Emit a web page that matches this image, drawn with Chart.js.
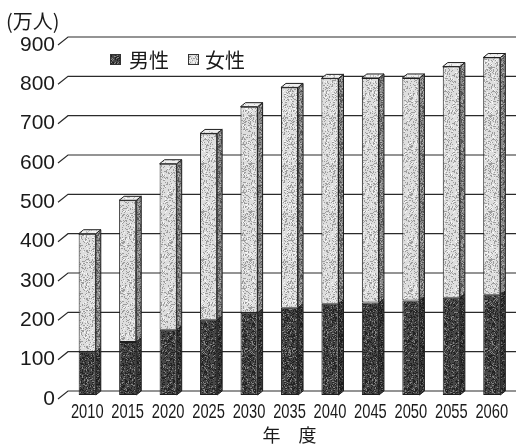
<!DOCTYPE html>
<html>
<head>
<meta charset="utf-8">
<script src="https://cdn.jsdelivr.net/npm/chart.js@4.4.1/dist/chart.umd.min.js"></script>
<style>
  html, body { margin: 0; padding: 0; background: #fff; }
  #wrap { width: 516px; height: 446px; }
</style>
</head>
<body>
<div id="wrap"><canvas id="myChart"></canvas></div>
<script>
// data (万人)
var years = ["2010", "2015", "2020", "2025", "2030", "2035", "2040", "2045", "2050", "2055", "2060"];
var male = [110, 135, 166, 191, 209, 222, 232, 235, 240, 247, 255];
var female = [300, 360, 422, 474, 524, 560, 573, 571, 566, 588, 603];
var yTicks = [0, 100, 200, 300, 400, 500, 600, 700, 800, 900];

var DX = 5, DY = -4;

// grainy fill to look like the scanned print
function grain(base, dark, light, density) {
    var c = document.createElement("canvas");
    c.width = 48; c.height = 48;
    var g = c.getContext("2d");
    g.fillStyle = base;
    g.fillRect(0, 0, 48, 48);
    for (var x = 0; x < 48; x++) {
        for (var y = 0; y < 48; y++) {
            var h = ((x * 374761393) ^ (y * 668265263) ^ (x * y * 2654435761)) >>> 0;
            h = ((h ^ (h >>> 13)) * 1274126177) >>> 0;
            var v = h % 100;
            if (v < density) { g.fillStyle = dark; g.fillRect(x, y, 1, 1); }
            else if (v > 100 - density / 2) { g.fillStyle = light; g.fillRect(x, y, 1, 1); }
        }
    }
    return g.createPattern(c, "repeat");
}

var maleFill = grain("#474747", "#222222", "#858585", 32);
var maleSide = grain("#383838", "#1c1c1c", "#6a6a6a", 30);
var femaleFill = grain("#dedede", "#9c9c9c", "#f7f7f7", 22);
var femaleSide = grain("#8a8a8a", "#555555", "#b5b5b5", 30);
var femaleTop = grain("#efefef", "#bdbdbd", "#ffffff", 15);

var sides = [maleSide, femaleSide];

var backGrid = {
    id: "backGrid",
    beforeDatasetsDraw: function(chart) {
        var ctx = chart.ctx, y = chart.scales.y, area = chart.chartArea;
        ctx.save();
        ctx.strokeStyle = "#2b2b2b";
        ctx.lineWidth = 1.2;
        yTicks.forEach(function(v) {
            var py = y.getPixelForValue(v);
            ctx.beginPath();
            ctx.moveTo(area.left - 9, py + 4);
            ctx.lineTo(area.left + 1, py - 4);
            ctx.lineTo(chart.width, py - 4);
            ctx.stroke();
        });
        ctx.restore();
    }
};

var bars3d = {
    id: "bars3d",
    afterDatasetsDraw: function(chart) {
        var ctx = chart.ctx;
        ctx.save();
        ctx.strokeStyle = "#1e1e1e";
        ctx.lineWidth = 1;
        chart.data.datasets.forEach(function(ds, di) {
            var meta = chart.getDatasetMeta(di);
            meta.data.forEach(function(bar) {
                var p = bar.getProps(["x", "y", "base", "width"], true);
                var r = p.x + p.width / 2, l = p.x - p.width / 2;
                var top = Math.min(p.y, p.base), bot = Math.max(p.y, p.base);
                ctx.beginPath();
                ctx.moveTo(r, top);
                ctx.lineTo(r + DX, top + DY);
                ctx.lineTo(r + DX, bot + DY);
                ctx.lineTo(r, bot);
                ctx.closePath();
                ctx.fillStyle = sides[di];
                ctx.fill();
                ctx.stroke();
                if (di === chart.data.datasets.length - 1) {
                    ctx.beginPath();
                    ctx.moveTo(l, top);
                    ctx.lineTo(l + DX, top + DY);
                    ctx.lineTo(r + DX, top + DY);
                    ctx.lineTo(r, top);
                    ctx.closePath();
                    ctx.fillStyle = femaleTop;
                    ctx.fill();
                    ctx.stroke();
                }
            });
        });
        ctx.restore();
    }
};

// year labels in a condensed face, as printed
var yearLabels = {
    id: "yearLabels",
    afterDraw: function(chart) {
        var ctx = chart.ctx, x = chart.scales.x;
        ctx.save();
        ctx.font = "21px 'Liberation Sans', sans-serif";
        ctx.fillStyle = "#1a1a1a";
        ctx.textAlign = "center";
        ctx.textBaseline = "middle";
        chart.data.labels.forEach(function(lab, i) {
            var px = x.getPixelForTick(i);
            ctx.save();
            ctx.translate(px, chart.chartArea.bottom + 17);
            ctx.scale(0.7, 1);
            ctx.fillText(lab, 0, 0);
            ctx.restore();
        });
        ctx.restore();
    }
};

var innerLegend = {
    id: "innerLegend",
    afterDraw: function(chart) {
        var ctx = chart.ctx;
        var items = [{ x: 110, textX: 129 }, { x: 188, textX: 205 }];
        ctx.save();
        ctx.font = "20px 'Noto Sans CJK JP'";
        ctx.textBaseline = "middle";
        chart.data.datasets.forEach(function(ds, i) {
            ctx.fillStyle = ds.backgroundColor;
            ctx.fillRect(items[i].x, 54, 11, 11);
            ctx.strokeStyle = "#333";
            ctx.strokeRect(items[i].x + 0.5, 54.5, 10, 10);
            ctx.fillStyle = "#1a1a1a";
            ctx.fillText(ds.label, items[i].textX, 60);
        });
        ctx.restore();
    }
};

var ctx = document.getElementById("myChart");

var chart = new Chart(ctx, {
    type: "bar",
    data: {
        labels: years,
        datasets: [{
            label: "男性",
            data: male,
            backgroundColor: maleFill,
            borderColor: "#1e1e1e",
            borderWidth: 1,
            borderSkipped: false,
            barPercentage: 0.9,
            categoryPercentage: 0.47
        }, {
            label: "女性",
            data: female,
            backgroundColor: femaleFill,
            borderColor: "#1e1e1e",
            borderWidth: 1,
            borderSkipped: false,
            barPercentage: 0.9,
            categoryPercentage: 0.47
        }]
    },
    options: {
        responsive: true,
        maintainAspectRatio: false,
        animation: false,
        layout: { padding: { left: 6, right: 4, top: 0, bottom: 0 } },
        plugins: {
            legend: { display: false },
            tooltip: { enabled: false },
            title: {
                display: true,
                text: "(万人)",
                align: "start",
                color: "#1a1a1a",
                font: { family: "'Noto Sans CJK JP'", size: 20, weight: "normal", lineHeight: 1.2 },
                padding: { top: 9, bottom: 8 }
            }
        },
        scales: {
            x: {
                stacked: true,
                grid: { display: false, drawTicks: false },
                border: { display: false },
                ticks: { display: false },
                title: {
                    display: true,
                    text: "年　度",
                    color: "#1a1a1a",
                    padding: { top: 0, bottom: 0 },
                    font: { family: "'Noto Sans CJK JP'", size: 18 }
                },
                afterFit: function(s) { s.height = 51; }
            },
            y: {
                stacked: true,
                min: 0,
                max: 900,
                grid: { display: false, drawTicks: false },
                border: { display: false },
                afterBuildTicks: function(s) {
                    s.ticks = yTicks.map(function(v) { return { value: v }; });
                },
                ticks: {
                    color: "#1a1a1a",
                    padding: 12,
                    labelOffset: 4,
                    font: { family: "'Liberation Sans', sans-serif", size: 21 }
                },
                afterFit: function(s) { s.width = 61; }
            }
        }
    },
    plugins: [backGrid, bars3d, yearLabels, innerLegend]
});
</script>
</body>
</html>
